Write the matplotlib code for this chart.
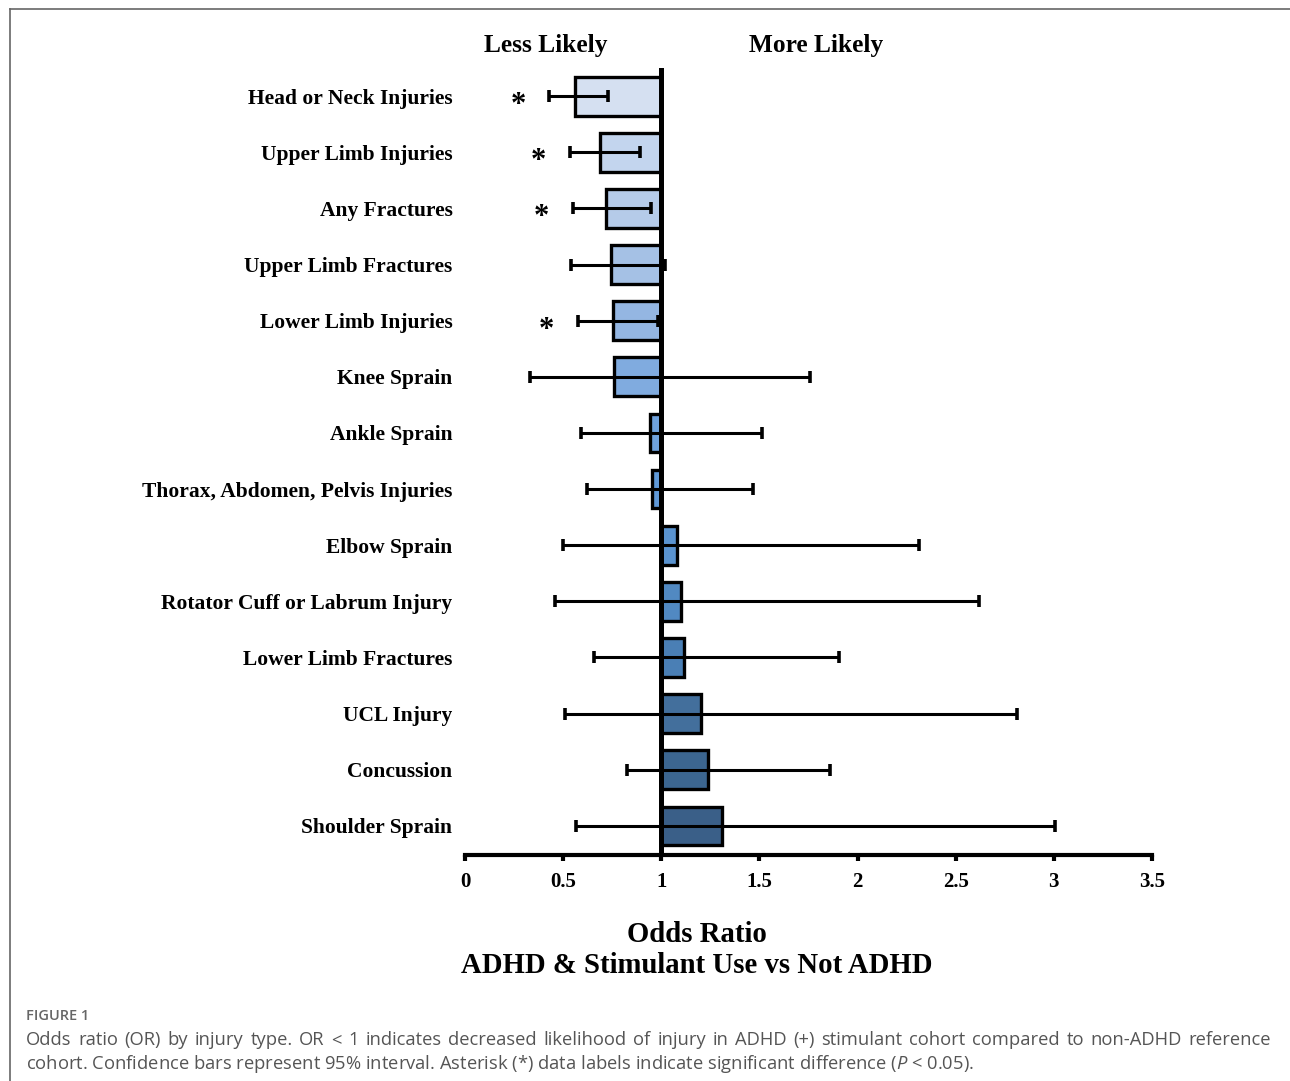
import matplotlib
matplotlib.use("Agg")
import matplotlib.pyplot as plt
import matplotlib.transforms as mtransforms

# odds ratios with 95% confidence limits, top row first
injuries = ["Head or Neck Injuries", "Upper Limb Injuries", "Any Fractures",
            "Upper Limb Fractures", "Lower Limb Injuries", "Knee Sprain",
            "Ankle Sprain", "Thorax, Abdomen, Pelvis Injuries", "Elbow Sprain",
            "Rotator Cuff or Labrum Injury", "Lower Limb Fractures", "UCL Injury",
            "Concussion", "Shoulder Sprain"]
odds_ratio = [0.56, 0.69, 0.72, 0.745, 0.755, 0.76, 0.94, 0.955,
              1.08, 1.10, 1.115, 1.20, 1.24, 1.31]
ci_low = [0.43, 0.535, 0.55, 0.54, 0.575, 0.33, 0.59, 0.62,
          0.50, 0.46, 0.655, 0.51, 0.825, 0.565]
ci_high = [0.73, 0.89, 0.95, 1.02, 0.985, 1.76, 1.515, 1.465,
           2.315, 2.62, 1.905, 2.81, 1.86, 3.005]
significant = [True, True, True, False, True, False, False, False,
               False, False, False, False, False, False]
bar_colors = ["#d5e0f1", "#c3d5ee", "#b5cbe9", "#a5c1e5", "#94b6e2", "#80abdf",
              "#6fa2dd", "#6099d8", "#5a93cf", "#5189c2", "#4a7fb5", "#436f9c",
              "#3c6690", "#3a5f88"]
x_ticks = [0, 0.5, 1, 1.5, 2, 2.5, 3, 3.5]

caption_lines = [
    "Odds ratio (OR) by injury type. OR < 1 indicates decreased likelihood of injury "
    "in ADHD (+) stimulant cohort compared to non-ADHD reference",
    "cohort. Confidence bars represent 95% interval. Asterisk (*) data labels "
    "indicate significant difference ($P$ < 0.05).",
]

serif = "Liberation Serif"
W, H = 1290, 1081

plt.rcParams["mathtext.fontset"] = "custom"
plt.rcParams["mathtext.it"] = "Open Sans:italic"
plt.rcParams["mathtext.rm"] = "Open Sans"

fig = plt.figure(figsize=(W / 100, H / 100), dpi=100)
ax = fig.add_axes([465 / W, 0.209, 687 / W, 0.728])

rows = list(range(len(injuries)))
widths = [v - 1 for v in odds_ratio]
ax.barh(rows, widths, left=1, height=0.69, color=bar_colors,
        edgecolor="black", linewidth=2.4, zorder=2)

err_lo = [o - l for o, l in zip(odds_ratio, ci_low)]
err_hi = [h - o for o, h in zip(odds_ratio, ci_high)]
ax.errorbar(odds_ratio, rows, xerr=[err_lo, err_hi], fmt="none",
            ecolor="black", elinewidth=2.2, capsize=4, capthick=2.6, zorder=3)

# asterisks for significant rows, just left of the lower limit
for i, sig in enumerate(significant):
    if sig:
        ax.text(ci_low[i] - 0.16, i + 0.17, "*", ha="center", va="center",
                fontsize=22, fontweight="bold", family=serif)

# reference line at OR = 1
ax.axvline(1, color="black", linewidth=3.6, zorder=4)

ax.set_xlim(0, 3.5)
ax.set_ylim(len(injuries) - 0.48, -0.5)
ax.set_xticks(x_ticks)
ax.set_xticklabels([f"{t:g}" for t in x_ticks])
ax.set_yticks(rows)
ax.set_yticklabels(injuries)

for s in ["top", "right", "left"]:
    ax.spines[s].set_visible(False)
ax.spines["bottom"].set_linewidth(3)
ax.tick_params(axis="x", direction="out", length=4, width=3, pad=8)
ax.tick_params(axis="y", length=0, pad=9)
for lab in ax.get_xticklabels():
    lab.set_family(serif)
    lab.set_fontweight("bold")
    lab.set_fontsize(15)
for lab in ax.get_yticklabels():
    lab.set_family(serif)
    lab.set_fontweight("bold")
    lab.set_fontsize(15.5)

top = mtransforms.blended_transform_factory(ax.transData, fig.transFigure)
ax.text(0.41, 0.958, "Less Likely", transform=top, ha="center", va="center",
        family=serif, fontweight="bold", fontsize=18.3)
ax.text(1.79, 0.958, "More Likely", transform=top, ha="center", va="center",
        family=serif, fontweight="bold", fontsize=18.3)
ax.text(1.18, 1 - 950 / H, "Odds Ratio\nADHD & Stimulant Use vs Not ADHD",
        transform=top, ha="center", va="center", family=serif,
        fontweight="bold", fontsize=20.7, linespacing=1.16)

# page frame
fig.add_artist(plt.Line2D([10 / W, 1], [1 - 9 / H, 1 - 9 / H],
                          transform=fig.transFigure, color="#666666", lw=1.2))
fig.add_artist(plt.Line2D([10 / W, 10 / W], [0, 1 - 9 / H],
                          transform=fig.transFigure, color="#666666", lw=1.2))

# caption, first line justified across the column
cap_color = "#555555"
cap_left, cap_right = 26, 1271
fig.text(cap_left / W, 1 - 1016 / H, "FIGURE 1", family="Open Sans",
         fontsize=10.5, color="#666666", va="center", fontweight="semibold")

renderer = fig.canvas.get_renderer()
words = caption_lines[0].split(" ")
word_texts = [fig.text(0, 1 - 1040 / H, w, family="Open Sans", fontsize=13.2,
                       color=cap_color, va="center") for w in words]
word_w = [t.get_window_extent(renderer).width for t in word_texts]
gap = (cap_right - cap_left - sum(word_w)) / (len(words) - 1)
x = cap_left
for t, w in zip(word_texts, word_w):
    t.set_x(x / W)
    x += w + gap
fig.text(cap_left / W, 1 - 1064 / H, caption_lines[1], family="Open Sans",
         fontsize=13.2, color=cap_color, va="center")

fig.savefig("out.png", dpi=100)
